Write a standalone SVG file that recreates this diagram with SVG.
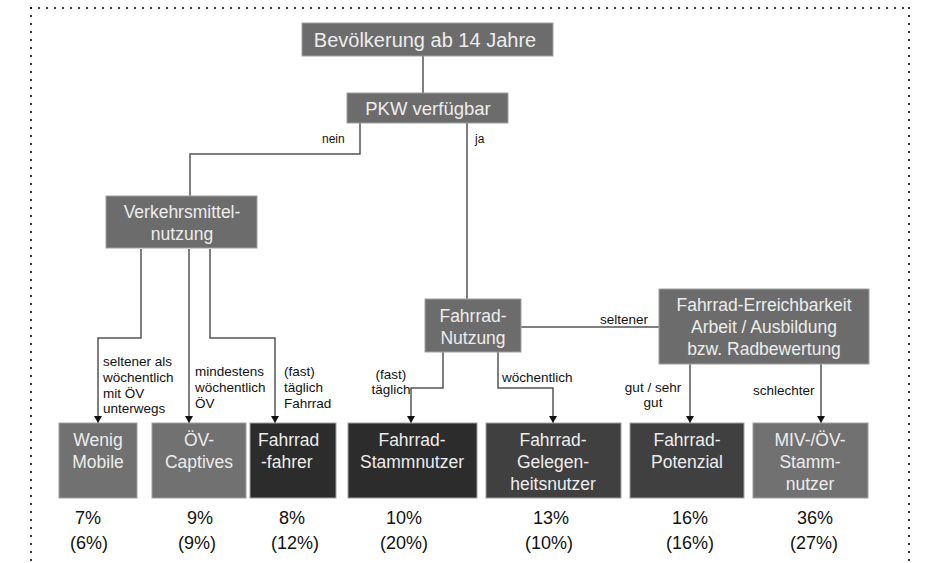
<svg xmlns="http://www.w3.org/2000/svg" width="932" height="563" viewBox="0 0 932 563">
<defs>
<style>
.frame{stroke:#111;stroke-width:2.2;stroke-linecap:round;stroke-dasharray:0 8;fill:none}
.box{stroke:#a0a0a0;stroke-width:1}
.mid{fill:#6c6c6c}
.light{fill:#717171}
.dark{fill:#2c2c2c}
.darker{fill:#404040}
.nt{font-family:"Liberation Sans",Arial,Helvetica,sans-serif;font-size:17.5px;fill:#ededed;text-anchor:middle}
.nt.left{text-anchor:start}
.lbl{font-family:"Liberation Sans",Arial,Helvetica,sans-serif;font-size:13.5px;fill:#111}
.lbl.c{text-anchor:middle}
.pct{font-family:"Liberation Sans",Arial,Helvetica,sans-serif;font-size:18px;fill:#111;text-anchor:middle}
.con{fill:none;stroke:#555;stroke-width:1.5}
</style>
<marker id="arr" markerUnits="userSpaceOnUse" markerWidth="8" markerHeight="8" refX="7" refY="4" orient="auto">
<path d="M0,0 L7,4 L0,8 Z" fill="#111"/>
</marker>
</defs>
<rect width="932" height="563" fill="#ffffff"/>
<g id="frame">
<path class="frame" d="M31,8 H909"/>
<path class="frame" d="M31,8 V563"/>
<path class="frame" d="M909,8 V563"/>
</g>
<g id="connectors">
<path class="con" d="M423,56 V93"/>
<path class="con" d="M360,123 V154 H190 V196"/>
<path class="con" d="M467,123 V299"/>
<path class="con" d="M141,249 V338 H98 V423" marker-end="url(#arr)"/>
<path class="con" d="M189,249 V423" marker-end="url(#arr)"/>
<path class="con" d="M210,249 V338 H275 V423" marker-end="url(#arr)"/>
<path class="con" d="M443,352 V388 H411 V423" marker-end="url(#arr)"/>
<path class="con" d="M498,352 V388 H553 V423" marker-end="url(#arr)"/>
<path class="con" d="M521,327 H659"/>
<path class="con" d="M690,364 V423" marker-end="url(#arr)"/>
<path class="con" d="M821,364 V423" marker-end="url(#arr)"/>
<text class="lbl" x="322" y="143" style="font-size:12px">nein</text>
<text class="lbl" x="475" y="143" style="font-size:12px">ja</text>
<text class="lbl" x="103" y="366">seltener als</text>
<text class="lbl" x="103" y="382">wöchentlich</text>
<text class="lbl" x="103" y="398">mit ÖV</text>
<text class="lbl" x="103" y="413">unterwegs</text>
<text class="lbl" x="195" y="376">mindestens</text>
<text class="lbl" x="195" y="392">wöchentlich</text>
<text class="lbl" x="195" y="408">ÖV</text>
<text class="lbl" x="284" y="376">(fast)</text>
<text class="lbl" x="284" y="392">täglich</text>
<text class="lbl" x="284" y="408">Fahrrad</text>
<text class="lbl c" x="391" y="379">(fast)</text>
<text class="lbl c" x="391" y="394">täglich</text>
<text class="lbl" x="502" y="382">wöchentlich</text>
<text class="lbl" x="600" y="324">seltener</text>
<text class="lbl c" x="653" y="392">gut / sehr</text>
<text class="lbl c" x="653" y="407">gut</text>
<text class="lbl" x="753" y="395">schlechter</text>
</g>
<g id="n-bevoelkerung">
<rect class="box mid" x="302" y="23" width="251" height="33"/>
<text class="nt" x="425" y="47" style="font-size:20px">Bevölkerung ab 14 Jahre</text>
</g>
<g id="n-pkw">
<rect class="box mid" x="347" y="93" width="161" height="30"/>
<text class="nt" x="428" y="115" style="font-size:18.5px">PKW verfügbar</text>
</g>
<g id="n-verkehrsmittel">
<rect class="box mid" x="106" y="196" width="151" height="52"/>
<text class="nt" x="182" y="218">Verkehrsmittel-</text>
<text class="nt" x="182" y="240">nutzung</text>
</g>
<g id="n-fahrradnutzung">
<rect class="box mid" x="425" y="299" width="96" height="53"/>
<text class="nt" x="473" y="322">Fahrrad-</text>
<text class="nt" x="473" y="344">Nutzung</text>
</g>
<g id="n-erreichbarkeit">
<rect class="box mid" x="659" y="289" width="210" height="75"/>
<text class="nt" x="764" y="311">Fahrrad-Erreichbarkeit</text>
<text class="nt" x="764" y="333">Arbeit / Ausbildung</text>
<text class="nt" x="764" y="355">bzw. Radbewertung</text>
</g>
<g id="n-wenig">
<rect class="box light" x="59" y="423" width="78" height="75"/>
<text class="nt" x="98" y="446">Wenig</text>
<text class="nt" x="98" y="468">Mobile</text>
<text class="pct" x="88" y="524">7%</text>
<text class="pct" x="89" y="549">(6%)</text>
</g>
<g id="n-oev">
<rect class="box light" x="152" y="423" width="94" height="75"/>
<text class="nt" x="199" y="446">ÖV-</text>
<text class="nt" x="199" y="468">Captives</text>
<text class="pct" x="200" y="524">9%</text>
<text class="pct" x="197" y="549">(9%)</text>
</g>
<g id="n-radfahrer">
<rect class="box dark" x="250" y="423" width="86" height="75"/>
<text class="nt left" x="258" y="446">Fahrrad</text>
<text class="nt left" x="261" y="468">-fahrer</text>
<text class="pct" x="292" y="524">8%</text>
<text class="pct" x="295" y="549">(12%)</text>
</g>
<g id="n-stammnutzer">
<rect class="box dark" x="348" y="423" width="129" height="75"/>
<text class="nt" x="412" y="446">Fahrrad-</text>
<text class="nt" x="412" y="468">Stammnutzer</text>
<text class="pct" x="404" y="524">10%</text>
<text class="pct" x="404" y="549">(20%)</text>
</g>
<g id="n-gelegenheit">
<rect class="box darker" x="486" y="423" width="135" height="75"/>
<text class="nt" x="553" y="446">Fahrrad-</text>
<text class="nt" x="553" y="468">Gelegen-</text>
<text class="nt" x="553" y="490">heitsnutzer</text>
<text class="pct" x="551" y="524">13%</text>
<text class="pct" x="549" y="549">(10%)</text>
</g>
<g id="n-potenzial">
<rect class="box darker" x="630" y="423" width="114" height="75"/>
<text class="nt" x="687" y="446">Fahrrad-</text>
<text class="nt" x="687" y="468">Potenzial</text>
<text class="pct" x="690" y="524">16%</text>
<text class="pct" x="690" y="549">(16%)</text>
</g>
<g id="n-miv">
<rect class="box light" x="753" y="423" width="115" height="75"/>
<text class="nt" x="810" y="446">MIV-/ÖV-</text>
<text class="nt" x="810" y="468">Stamm-</text>
<text class="nt" x="810" y="490">nutzer</text>
<text class="pct" x="815" y="524">36%</text>
<text class="pct" x="814" y="549">(27%)</text>
</g>
</svg>
